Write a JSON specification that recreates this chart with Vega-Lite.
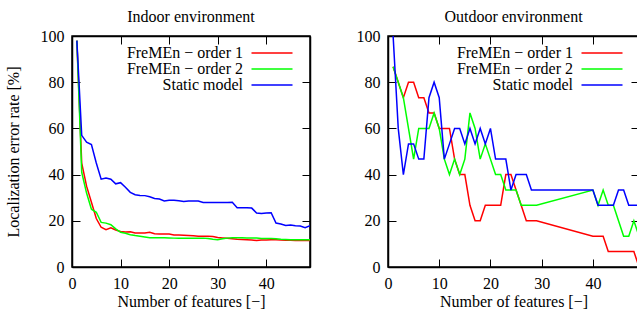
{
  "$schema": "https://vega.github.io/schema/vega-lite/v6.json",
  "background": "white",
  "padding": {"left": 4, "top": 8, "right": 0, "bottom": 0},
  "bounds": "flush",
  "spacing": 78,
  "config": {
    "font": "Liberation Serif",
    "view": {"stroke": "#000", "strokeWidth": 1.5},
    "title": {"font": "Liberation Serif", "fontSize": 16, "fontWeight": "normal", "color": "#000", "anchor": "middle", "offset": 3},
    "axis": {
      "labelFont": "Liberation Serif", "labelFontSize": 16, "labelColor": "#000",
      "titleFont": "Liberation Serif", "titleFontSize": 16, "titleFontWeight": "normal", "titleColor": "#000",
      "tickSize": -8, "tickColor": "#000", "tickWidth": 1, "domainColor": "#000", "domainWidth": 1.5,
      "grid": false, "labelPadding": 16, "labelFlush": false, "labelOverlap": false
    },
    "legend": {
      "labelFont": "Liberation Serif", "labelFontSize": 16, "labelColor": "#000",
      "symbolType": "M-4.1,0H4.1", "symbolSize": 100, "symbolStrokeWidth": 1.5, "symbolFillColor": "transparent",
      "rowPadding": -6, "labelAlign": "right", "orient": "none", "title": null,
      "labelLimit": 300
    }
  },
  "resolve": {"scale": {"color": "independent"}},
  "datasets": {
    "indoor": [
      {"n":1,"rate":98,"model":"FreMEn − order 1"},{"n":2,"rate":45,"model":"FreMEn − order 1"},{"n":3,"rate":35,"model":"FreMEn − order 1"},{"n":4,"rate":28,"model":"FreMEn − order 1"},{"n":5,"rate":21,"model":"FreMEn − order 1"},{"n":6,"rate":17.2,"model":"FreMEn − order 1"},{"n":7,"rate":16.2,"model":"FreMEn − order 1"},{"n":8,"rate":17,"model":"FreMEn − order 1"},{"n":9,"rate":16,"model":"FreMEn − order 1"},{"n":10,"rate":15.4,"model":"FreMEn − order 1"},{"n":11,"rate":15.2,"model":"FreMEn − order 1"},{"n":12,"rate":15.3,"model":"FreMEn − order 1"},{"n":13,"rate":14.7,"model":"FreMEn − order 1"},{"n":14,"rate":14.7,"model":"FreMEn − order 1"},{"n":15,"rate":14.7,"model":"FreMEn − order 1"},{"n":16,"rate":15,"model":"FreMEn − order 1"},{"n":17,"rate":14.4,"model":"FreMEn − order 1"},{"n":18,"rate":14.3,"model":"FreMEn − order 1"},{"n":19,"rate":14.3,"model":"FreMEn − order 1"},{"n":20,"rate":14.3,"model":"FreMEn − order 1"},{"n":21,"rate":13.9,"model":"FreMEn − order 1"},{"n":22,"rate":13.8,"model":"FreMEn − order 1"},{"n":23,"rate":13.7,"model":"FreMEn − order 1"},{"n":24,"rate":13.6,"model":"FreMEn − order 1"},{"n":25,"rate":13.5,"model":"FreMEn − order 1"},{"n":26,"rate":13.3,"model":"FreMEn − order 1"},{"n":27,"rate":13.3,"model":"FreMEn − order 1"},{"n":28,"rate":13.3,"model":"FreMEn − order 1"},{"n":29,"rate":13.2,"model":"FreMEn − order 1"},{"n":30,"rate":12.8,"model":"FreMEn − order 1"},{"n":31,"rate":12.6,"model":"FreMEn − order 1"},{"n":32,"rate":12.4,"model":"FreMEn − order 1"},{"n":33,"rate":12.2,"model":"FreMEn − order 1"},{"n":34,"rate":12,"model":"FreMEn − order 1"},{"n":35,"rate":11.9,"model":"FreMEn − order 1"},{"n":36,"rate":11.8,"model":"FreMEn − order 1"},{"n":37,"rate":11.7,"model":"FreMEn − order 1"},{"n":38,"rate":11.5,"model":"FreMEn − order 1"},{"n":39,"rate":11.7,"model":"FreMEn − order 1"},{"n":40,"rate":11.7,"model":"FreMEn − order 1"},{"n":41,"rate":11.8,"model":"FreMEn − order 1"},{"n":42,"rate":11.8,"model":"FreMEn − order 1"},{"n":43,"rate":11.7,"model":"FreMEn − order 1"},{"n":44,"rate":11.6,"model":"FreMEn − order 1"},{"n":45,"rate":11.6,"model":"FreMEn − order 1"},{"n":46,"rate":11.5,"model":"FreMEn − order 1"},{"n":47,"rate":11.5,"model":"FreMEn − order 1"},{"n":48,"rate":11.5,"model":"FreMEn − order 1"},{"n":49,"rate":11.5,"model":"FreMEn − order 1"},
      {"n":1,"rate":98,"model":"FreMEn − order 2"},{"n":2,"rate":41,"model":"FreMEn − order 2"},{"n":3,"rate":32,"model":"FreMEn − order 2"},{"n":4,"rate":25,"model":"FreMEn − order 2"},{"n":5,"rate":23.7,"model":"FreMEn − order 2"},{"n":6,"rate":19.3,"model":"FreMEn − order 2"},{"n":7,"rate":19,"model":"FreMEn − order 2"},{"n":8,"rate":18.3,"model":"FreMEn − order 2"},{"n":9,"rate":16.5,"model":"FreMEn − order 2"},{"n":10,"rate":15,"model":"FreMEn − order 2"},{"n":11,"rate":14.6,"model":"FreMEn − order 2"},{"n":12,"rate":14,"model":"FreMEn − order 2"},{"n":13,"rate":13.6,"model":"FreMEn − order 2"},{"n":14,"rate":13.3,"model":"FreMEn − order 2"},{"n":15,"rate":13,"model":"FreMEn − order 2"},{"n":16,"rate":12.7,"model":"FreMEn − order 2"},{"n":17,"rate":12.7,"model":"FreMEn − order 2"},{"n":18,"rate":12.7,"model":"FreMEn − order 2"},{"n":19,"rate":12.7,"model":"FreMEn − order 2"},{"n":20,"rate":12.6,"model":"FreMEn − order 2"},{"n":21,"rate":12.5,"model":"FreMEn − order 2"},{"n":22,"rate":12.4,"model":"FreMEn − order 2"},{"n":23,"rate":12.4,"model":"FreMEn − order 2"},{"n":24,"rate":12.4,"model":"FreMEn − order 2"},{"n":25,"rate":12.5,"model":"FreMEn − order 2"},{"n":26,"rate":12.5,"model":"FreMEn − order 2"},{"n":27,"rate":12.5,"model":"FreMEn − order 2"},{"n":28,"rate":12.3,"model":"FreMEn − order 2"},{"n":29,"rate":12,"model":"FreMEn − order 2"},{"n":30,"rate":11.8,"model":"FreMEn − order 2"},{"n":31,"rate":12.2,"model":"FreMEn − order 2"},{"n":32,"rate":12.5,"model":"FreMEn − order 2"},{"n":33,"rate":12.7,"model":"FreMEn − order 2"},{"n":34,"rate":12.7,"model":"FreMEn − order 2"},{"n":35,"rate":12.7,"model":"FreMEn − order 2"},{"n":36,"rate":12.6,"model":"FreMEn − order 2"},{"n":37,"rate":12.6,"model":"FreMEn − order 2"},{"n":38,"rate":12.6,"model":"FreMEn − order 2"},{"n":39,"rate":12.3,"model":"FreMEn − order 2"},{"n":40,"rate":12.3,"model":"FreMEn − order 2"},{"n":41,"rate":12.3,"model":"FreMEn − order 2"},{"n":42,"rate":12.2,"model":"FreMEn − order 2"},{"n":43,"rate":12,"model":"FreMEn − order 2"},{"n":44,"rate":11.9,"model":"FreMEn − order 2"},{"n":45,"rate":11.8,"model":"FreMEn − order 2"},{"n":46,"rate":11.8,"model":"FreMEn − order 2"},{"n":47,"rate":11.8,"model":"FreMEn − order 2"},{"n":48,"rate":11.8,"model":"FreMEn − order 2"},{"n":49,"rate":11.8,"model":"FreMEn − order 2"},
      {"n":1,"rate":98,"model":"Static model"},{"n":2,"rate":57,"model":"Static model"},{"n":3,"rate":54,"model":"Static model"},{"n":4,"rate":53,"model":"Static model"},{"n":5,"rate":45,"model":"Static model"},{"n":6,"rate":38,"model":"Static model"},{"n":7,"rate":38.5,"model":"Static model"},{"n":8,"rate":38,"model":"Static model"},{"n":9,"rate":36,"model":"Static model"},{"n":10,"rate":36.5,"model":"Static model"},{"n":11,"rate":34.5,"model":"Static model"},{"n":12,"rate":32.3,"model":"Static model"},{"n":13,"rate":31.3,"model":"Static model"},{"n":14,"rate":31,"model":"Static model"},{"n":15,"rate":30.9,"model":"Static model"},{"n":16,"rate":30.4,"model":"Static model"},{"n":17,"rate":29.7,"model":"Static model"},{"n":18,"rate":29.4,"model":"Static model"},{"n":19,"rate":28.6,"model":"Static model"},{"n":20,"rate":28.9,"model":"Static model"},{"n":21,"rate":28.9,"model":"Static model"},{"n":22,"rate":28.7,"model":"Static model"},{"n":23,"rate":28.4,"model":"Static model"},{"n":24,"rate":28.6,"model":"Static model"},{"n":25,"rate":28.6,"model":"Static model"},{"n":26,"rate":28.6,"model":"Static model"},{"n":27,"rate":27.9,"model":"Static model"},{"n":28,"rate":27.9,"model":"Static model"},{"n":29,"rate":27.9,"model":"Static model"},{"n":30,"rate":27.9,"model":"Static model"},{"n":31,"rate":27.9,"model":"Static model"},{"n":32,"rate":27.9,"model":"Static model"},{"n":33,"rate":28,"model":"Static model"},{"n":34,"rate":25.7,"model":"Static model"},{"n":35,"rate":25.7,"model":"Static model"},{"n":36,"rate":25.7,"model":"Static model"},{"n":37,"rate":25.5,"model":"Static model"},{"n":38,"rate":23.4,"model":"Static model"},{"n":39,"rate":23.2,"model":"Static model"},{"n":40,"rate":23.4,"model":"Static model"},{"n":41,"rate":23.5,"model":"Static model"},{"n":42,"rate":19,"model":"Static model"},{"n":43,"rate":18.6,"model":"Static model"},{"n":44,"rate":18,"model":"Static model"},{"n":45,"rate":18.2,"model":"Static model"},{"n":46,"rate":17.9,"model":"Static model"},{"n":47,"rate":17.7,"model":"Static model"},{"n":48,"rate":17,"model":"Static model"},{"n":49,"rate":17.9,"model":"Static model"}
    ],
    "outdoor": [
      {"n":1,"rate":86.7,"model":"FreMEn − order 1"},{"n":2,"rate":80,"model":"FreMEn − order 1"},{"n":3,"rate":73.3,"model":"FreMEn − order 1"},{"n":4,"rate":80,"model":"FreMEn − order 1"},{"n":5,"rate":80,"model":"FreMEn − order 1"},{"n":6,"rate":73.3,"model":"FreMEn − order 1"},{"n":7,"rate":73.3,"model":"FreMEn − order 1"},{"n":8,"rate":66.7,"model":"FreMEn − order 1"},{"n":9,"rate":66.7,"model":"FreMEn − order 1"},{"n":10,"rate":60,"model":"FreMEn − order 1"},{"n":11,"rate":60,"model":"FreMEn − order 1"},{"n":12,"rate":60,"model":"FreMEn − order 1"},{"n":13,"rate":46.7,"model":"FreMEn − order 1"},{"n":14,"rate":40,"model":"FreMEn − order 1"},{"n":15,"rate":40,"model":"FreMEn − order 1"},{"n":16,"rate":26.7,"model":"FreMEn − order 1"},{"n":17,"rate":20,"model":"FreMEn − order 1"},{"n":18,"rate":20,"model":"FreMEn − order 1"},{"n":19,"rate":26.7,"model":"FreMEn − order 1"},{"n":20,"rate":26.7,"model":"FreMEn − order 1"},{"n":21,"rate":26.7,"model":"FreMEn − order 1"},{"n":22,"rate":26.7,"model":"FreMEn − order 1"},{"n":23,"rate":40,"model":"FreMEn − order 1"},{"n":24,"rate":40,"model":"FreMEn − order 1"},{"n":25,"rate":33.3,"model":"FreMEn − order 1"},{"n":26,"rate":26.7,"model":"FreMEn − order 1"},{"n":27,"rate":20,"model":"FreMEn − order 1"},{"n":28,"rate":20,"model":"FreMEn − order 1"},{"n":29,"rate":20,"model":"FreMEn − order 1"},{"n":40,"rate":13.3,"model":"FreMEn − order 1"},{"n":41,"rate":13.3,"model":"FreMEn − order 1"},{"n":42,"rate":13.3,"model":"FreMEn − order 1"},{"n":43,"rate":6.7,"model":"FreMEn − order 1"},{"n":44,"rate":6.7,"model":"FreMEn − order 1"},{"n":45,"rate":6.7,"model":"FreMEn − order 1"},{"n":46,"rate":6.7,"model":"FreMEn − order 1"},{"n":47,"rate":6.7,"model":"FreMEn − order 1"},{"n":48,"rate":6.7,"model":"FreMEn − order 1"},{"n":49,"rate":0,"model":"FreMEn − order 1"},
      {"n":1,"rate":86.7,"model":"FreMEn − order 2"},{"n":2,"rate":80,"model":"FreMEn − order 2"},{"n":3,"rate":73.3,"model":"FreMEn − order 2"},{"n":4,"rate":60,"model":"FreMEn − order 2"},{"n":5,"rate":46.7,"model":"FreMEn − order 2"},{"n":6,"rate":60,"model":"FreMEn − order 2"},{"n":7,"rate":60,"model":"FreMEn − order 2"},{"n":8,"rate":60,"model":"FreMEn − order 2"},{"n":9,"rate":66.7,"model":"FreMEn − order 2"},{"n":10,"rate":60,"model":"FreMEn − order 2"},{"n":11,"rate":46.7,"model":"FreMEn − order 2"},{"n":12,"rate":40,"model":"FreMEn − order 2"},{"n":13,"rate":46.7,"model":"FreMEn − order 2"},{"n":14,"rate":40,"model":"FreMEn − order 2"},{"n":15,"rate":46.7,"model":"FreMEn − order 2"},{"n":16,"rate":66.7,"model":"FreMEn − order 2"},{"n":17,"rate":60,"model":"FreMEn − order 2"},{"n":18,"rate":46.7,"model":"FreMEn − order 2"},{"n":19,"rate":53.3,"model":"FreMEn − order 2"},{"n":20,"rate":46.7,"model":"FreMEn − order 2"},{"n":21,"rate":40,"model":"FreMEn − order 2"},{"n":22,"rate":40,"model":"FreMEn − order 2"},{"n":23,"rate":33.3,"model":"FreMEn − order 2"},{"n":24,"rate":33.3,"model":"FreMEn − order 2"},{"n":25,"rate":33.3,"model":"FreMEn − order 2"},{"n":26,"rate":26.7,"model":"FreMEn − order 2"},{"n":27,"rate":26.7,"model":"FreMEn − order 2"},{"n":28,"rate":26.7,"model":"FreMEn − order 2"},{"n":29,"rate":26.7,"model":"FreMEn − order 2"},{"n":40,"rate":33.3,"model":"FreMEn − order 2"},{"n":41,"rate":26.7,"model":"FreMEn − order 2"},{"n":42,"rate":33.3,"model":"FreMEn − order 2"},{"n":43,"rate":26.7,"model":"FreMEn − order 2"},{"n":44,"rate":26.7,"model":"FreMEn − order 2"},{"n":45,"rate":20,"model":"FreMEn − order 2"},{"n":46,"rate":13.3,"model":"FreMEn − order 2"},{"n":47,"rate":13.3,"model":"FreMEn − order 2"},{"n":48,"rate":20,"model":"FreMEn − order 2"},{"n":49,"rate":13.3,"model":"FreMEn − order 2"},
      {"n":1,"rate":100,"model":"Static model"},{"n":2,"rate":60,"model":"Static model"},{"n":3,"rate":40,"model":"Static model"},{"n":4,"rate":53.3,"model":"Static model"},{"n":5,"rate":53.3,"model":"Static model"},{"n":6,"rate":46.7,"model":"Static model"},{"n":7,"rate":46.7,"model":"Static model"},{"n":8,"rate":73.3,"model":"Static model"},{"n":9,"rate":80,"model":"Static model"},{"n":10,"rate":73.3,"model":"Static model"},{"n":11,"rate":46.7,"model":"Static model"},{"n":12,"rate":53.3,"model":"Static model"},{"n":13,"rate":60,"model":"Static model"},{"n":14,"rate":60,"model":"Static model"},{"n":15,"rate":53.3,"model":"Static model"},{"n":16,"rate":60,"model":"Static model"},{"n":17,"rate":53.3,"model":"Static model"},{"n":18,"rate":60,"model":"Static model"},{"n":19,"rate":53.3,"model":"Static model"},{"n":20,"rate":60,"model":"Static model"},{"n":21,"rate":46.7,"model":"Static model"},{"n":22,"rate":46.7,"model":"Static model"},{"n":23,"rate":46.7,"model":"Static model"},{"n":24,"rate":33.3,"model":"Static model"},{"n":25,"rate":40,"model":"Static model"},{"n":26,"rate":40,"model":"Static model"},{"n":27,"rate":40,"model":"Static model"},{"n":28,"rate":33.3,"model":"Static model"},{"n":40,"rate":33.3,"model":"Static model"},{"n":41,"rate":26.7,"model":"Static model"},{"n":42,"rate":26.7,"model":"Static model"},{"n":43,"rate":26.7,"model":"Static model"},{"n":44,"rate":26.7,"model":"Static model"},{"n":45,"rate":33.3,"model":"Static model"},{"n":46,"rate":33.3,"model":"Static model"},{"n":47,"rate":26.7,"model":"Static model"},{"n":48,"rate":26.7,"model":"Static model"},{"n":49,"rate":26.7,"model":"Static model"}
    ]
  },
  "hconcat": [
    {
      "title": "Indoor environment",
      "width": 238,
      "height": 231,
      "data": {"name": "indoor"},
      "resolve": {"axis": {"x": "independent", "y": "independent"}},
      "layer": [
        {
          "mark": {"type": "line", "strokeWidth": 1.5, "clip": true},
          "encoding": {
            "x": {"field": "n", "type": "quantitative", "scale": {"domain": [0, 49], "nice": false, "zero": false},
                  "axis": {"orient": "bottom", "values": [0, 10, 20, 30, 40], "title": "Number of features [−]", "titlePadding": 2}},
            "y": {"field": "rate", "type": "quantitative", "scale": {"domain": [0, 100], "nice": false},
                  "axis": {"orient": "left", "values": [0, 20, 40, 60, 80, 100], "title": "Localization error rate [%]", "titlePadding": 19}},
            "color": {"field": "model", "type": "nominal",
                      "scale": {"domain": ["FreMEn − order 1", "FreMEn − order 2", "Static model"], "range": ["#ff0000", "#00ff00", "#0000ff"]},
                      "legend": {"legendX": 171, "legendY": 9,
                                 "encode": {"labels": {"update": {"x": {"value": 0}}}, "symbols": {"update": {"x": {"value": 29}}}}}}
          }
        },
        {
          "mark": {"type": "point", "opacity": 0},
          "encoding": {
            "x": {"field": "n", "type": "quantitative", "axis": {"orient": "top", "values": [0, 10, 20, 30, 40], "labels": false, "title": null}},
            "y": {"field": "rate", "type": "quantitative", "axis": {"orient": "right", "values": [0, 20, 40, 60, 80, 100], "labels": false, "title": null}}
          }
        }
      ]
    },
    {
      "title": "Outdoor environment",
      "width": 251,
      "height": 231,
      "data": {"name": "outdoor"},
      "resolve": {"axis": {"x": "independent", "y": "independent"}},
      "layer": [
        {
          "mark": {"type": "line", "strokeWidth": 1.5, "clip": true},
          "encoding": {
            "x": {"field": "n", "type": "quantitative", "scale": {"domain": [0, 49], "nice": false, "zero": false},
                  "axis": {"orient": "bottom", "values": [0, 10, 20, 30, 40], "title": "Number of features [−]", "titlePadding": 2}},
            "y": {"field": "rate", "type": "quantitative", "scale": {"domain": [0, 100], "nice": false},
                  "axis": {"orient": "left", "values": [0, 20, 40, 60, 80, 100], "title": null}},
            "color": {"field": "model", "type": "nominal",
                      "scale": {"domain": ["FreMEn − order 1", "FreMEn − order 2", "Static model"], "range": ["#ff0000", "#00ff00", "#0000ff"]},
                      "legend": {"legendX": 185, "legendY": 9,
                                 "encode": {"labels": {"update": {"x": {"value": 0}}}, "symbols": {"update": {"x": {"value": 29}}}}}}
          }
        },
        {
          "mark": {"type": "point", "opacity": 0},
          "encoding": {
            "x": {"field": "n", "type": "quantitative", "axis": {"orient": "top", "values": [0, 10, 20, 30, 40], "labels": false, "title": null}},
            "y": {"field": "rate", "type": "quantitative", "axis": {"orient": "right", "values": [0, 20, 40, 60, 80, 100], "labels": false, "title": null}}
          }
        }
      ]
    }
  ]
}
